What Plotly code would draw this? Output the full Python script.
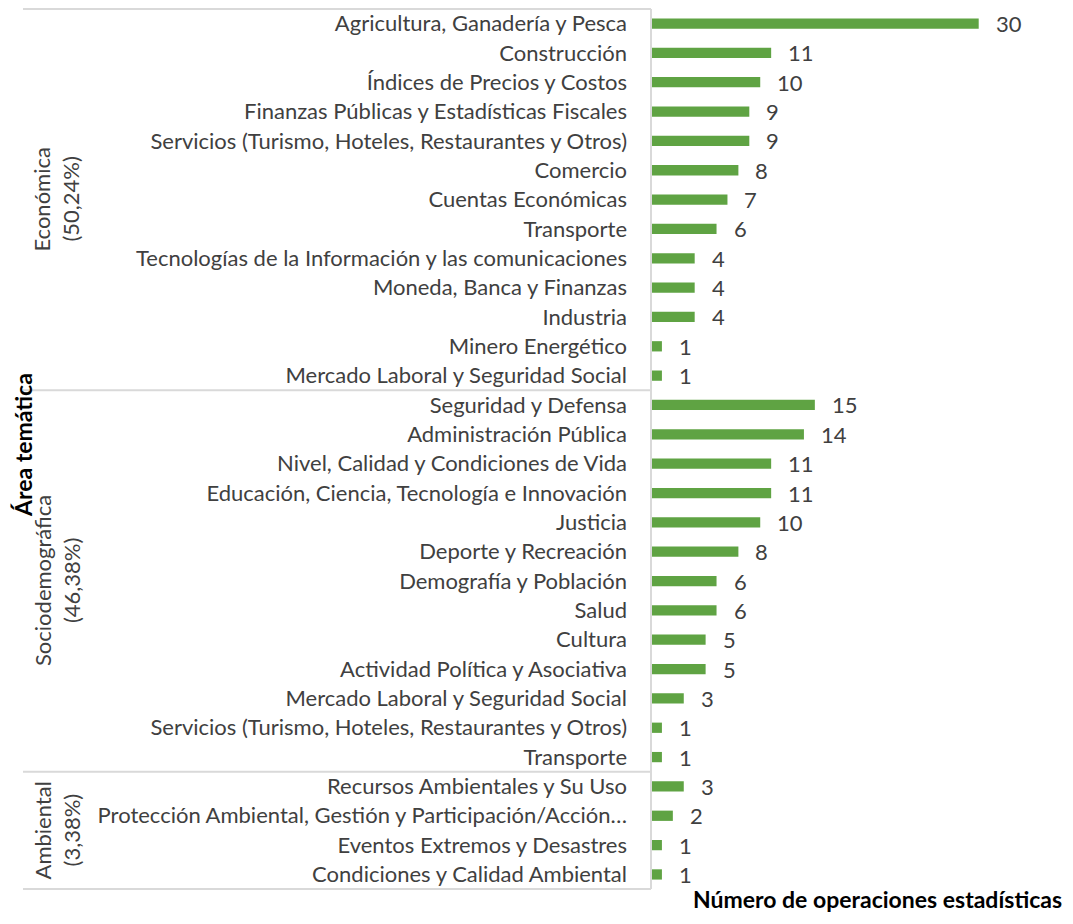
import plotly.graph_objects as go

categories = [
    "Agricultura, Ganadería y Pesca",
    "Construcción",
    "Índices de Precios y Costos",
    "Finanzas Públicas y Estadísticas Fiscales",
    "Servicios (Turismo, Hoteles, Restaurantes y Otros)",
    "Comercio",
    "Cuentas Económicas",
    "Transporte",
    "Tecnologías de la Información y las comunicaciones",
    "Moneda, Banca y Finanzas",
    "Industria",
    "Minero Energético",
    "Mercado Laboral y Seguridad Social",
    "Seguridad y Defensa",
    "Administración Pública",
    "Nivel, Calidad y Condiciones de Vida",
    "Educación, Ciencia, Tecnología e Innovación",
    "Justicia",
    "Deporte y Recreación",
    "Demografía y Población",
    "Salud",
    "Cultura",
    "Actividad Política y Asociativa",
    "Mercado Laboral y Seguridad Social",
    "Servicios (Turismo, Hoteles, Restaurantes y Otros)",
    "Transporte",
    "Recursos Ambientales y Su Uso",
    "Protección Ambiental, Gestión y Participación/Acción…",
    "Eventos Extremos y Desastres",
    "Condiciones y Calidad Ambiental",
]
values = [30, 11, 10, 9, 9, 8, 7, 6, 4, 4, 4, 1, 1,
          15, 14, 11, 11, 10, 8, 6, 6, 5, 5, 3, 1, 1,
          3, 2, 1, 1]
group_names = ["Económica", "Sociodemográfica", "Ambiental"]
group_shares = ["(50,24%)", "(46,38%)", "(3,38%)"]
group_sizes = [13, 13, 4]

# the page body adds an 8px margin; keep the figure inside the window
W, H = 1057, 908
ML, MR, MT, MB = 643, 0, 0, 26
PW = W - ML - MR
PH = H - MT - MB
FONT = "Lato"
TXT = "#404040"
GREEN = "#5FA343"
GRID = "#D9D9D9"

def px_to_paper_x(px):
    return (px - ML) / PW

def py_to_paper_y(py):
    return 1 - (py - MT) / PH

y_idx = list(range(len(categories)))

fig = go.Figure()
fig.add_trace(go.Bar(
    x=values, y=y_idx, orientation="h",
    marker=dict(color=GREEN, line=dict(width=0)),
    width=0.35, hoverinfo="x+text", hovertext=categories,
))

annotations = []
for v, yi in zip(values, y_idx):
    annotations.append(dict(x=v, y=yi, xref="x", yref="y", text=str(v),
                            showarrow=False, xanchor="left", yanchor="middle",
                            xshift=15, font=dict(family=FONT, size=22, color=TXT)))

shapes = []
x_left = px_to_paper_x(15)
start = 0
bounds = [-0.5]
for gs in group_sizes:
    start += gs
    bounds.append(start - 0.5)
for b in bounds:
    shapes.append(dict(type="line", xref="paper", yref="y", x0=x_left, x1=0,
                       y0=b, y1=b, line=dict(color=GRID, width=2)))
shapes.append(dict(type="line", xref="paper", yref="y", x0=0, x1=0,
                   y0=bounds[0], y1=bounds[-1], line=dict(color=GRID, width=2)))

start = 0
for name, share, gs in zip(group_names, group_shares, group_sizes):
    center = start + (gs - 1) / 2
    start += gs
    annotations.append(dict(x=px_to_paper_x(34), y=center, xref="paper", yref="y",
                            text=name, showarrow=False, textangle=-90,
                            xanchor="center", yanchor="middle",
                            font=dict(family=FONT, size=22, color=TXT)))
    annotations.append(dict(x=px_to_paper_x(63), y=center, xref="paper", yref="y",
                            text=share, showarrow=False, textangle=-90,
                            xanchor="center", yanchor="middle",
                            font=dict(family=FONT, size=22, color=TXT)))

annotations.append(dict(x=px_to_paper_x(15), y=py_to_paper_y(437), xref="paper", yref="paper",
                        text="<b>Área temática</b>", showarrow=False, textangle=-90,
                        xanchor="center", yanchor="middle",
                        font=dict(family=FONT, size=23, color="#000000")))
annotations.append(dict(x=px_to_paper_x(1056), y=py_to_paper_y(891), xref="paper", yref="paper",
                        text="<b>Número de operaciones estadísticas</b>", showarrow=False,
                        xanchor="right", yanchor="middle",
                        font=dict(family=FONT, size=23, color="#000000")))

fig.update_layout(
    width=W, height=H,
    margin=dict(l=ML, r=MR, t=MT, b=MB),
    plot_bgcolor="white", paper_bgcolor="white",
    showlegend=False,
    annotations=annotations,
    shapes=shapes,
    xaxis=dict(range=[0, 37.9], showgrid=False, zeroline=False, showticklabels=False,
               showline=False, ticks=""),
    yaxis=dict(range=[len(categories) - 0.5 + 0.03, -0.5 - 0.03], tickvals=y_idx, ticktext=categories,
               showgrid=False, zeroline=False, showline=False, ticks="",
               ticklabelstandoff=23,
               tickfont=dict(family=FONT, size=22, color=TXT)),
)

fig.write_html("out.html")
